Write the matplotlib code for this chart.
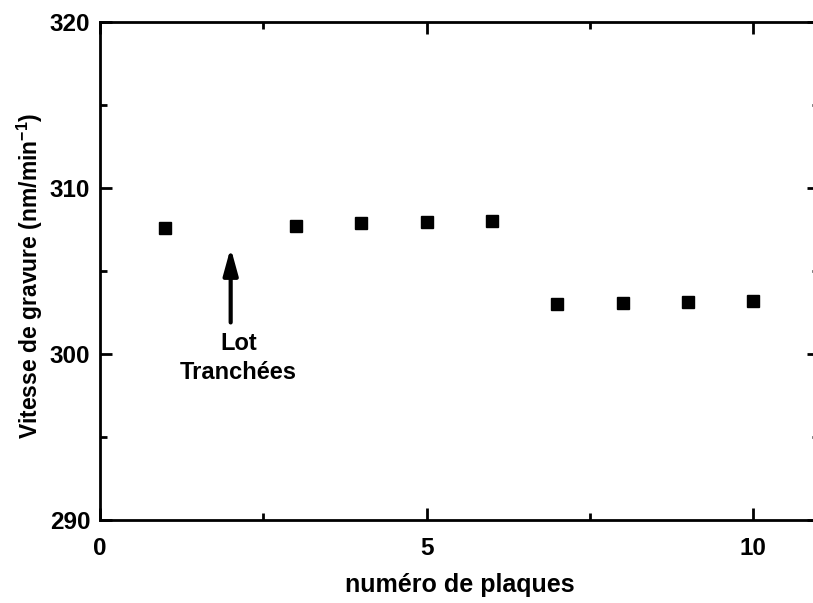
# Etch rate vs wafer number

import matplotlib.pyplot as plt
from matplotlib.ticker import MultipleLocator

plt.rcParams['font.family'] = ['Liberation Sans', 'DejaVu Sans']
plt.rcParams['font.weight'] = 'bold'
plt.rcParams['mathtext.fontset'] = 'custom'
plt.rcParams['mathtext.rm'] = 'Liberation Sans:bold'
plt.rcParams['mathtext.bf'] = 'Liberation Sans:bold'

# data
plaque = [1, 3, 4, 5, 6, 7, 8, 9, 10]
vitesse = [307.6, 307.73, 307.9, 307.95, 308.02, 302.99, 303.05, 303.11, 303.2]

# arrow marking the trench lot
lot_x = 2
lot_tail, lot_head = 301.9, 306.4

fig = plt.figure(figsize=(8.13, 6.03), dpi=100)
ax = fig.add_axes([0.123, 0.1376, 0.884, 0.826])

ax.plot(plaque, vitesse, 's', color='k', markersize=8, linestyle='none')

ax.annotate('', xy=(lot_x, lot_head), xytext=(lot_x, lot_tail),
            arrowprops=dict(arrowstyle='-|>,head_length=0.8,head_width=0.22',
                            color='k', lw=3, mutation_scale=20,
                            shrinkA=0, shrinkB=0))
ax.text(lot_x + 0.12, lot_tail - 0.6, 'Lot\nTranchées', ha='center', va='top',
        fontsize=17, fontweight='bold', linespacing=1.3)

ax.set_xlim(0, 11)
ax.set_ylim(290, 320)
ax.xaxis.set_major_locator(MultipleLocator(5))
ax.xaxis.set_minor_locator(MultipleLocator(2.5))
ax.yaxis.set_major_locator(MultipleLocator(10))
ax.yaxis.set_minor_locator(MultipleLocator(5))

ax.tick_params(which='both', direction='in', top=True, right=True, width=2)
ax.tick_params(which='major', length=8.5, labelsize=17.5)
ax.tick_params(axis='x', which='major', pad=12)
ax.tick_params(axis='y', which='major', pad=7)
ax.tick_params(which='minor', length=5)
for s in ax.spines.values():
    s.set_linewidth(2)

xl = ax.set_xlabel('numéro de plaques', fontsize=18, fontweight='bold')
yl = ax.set_ylabel(r'Vitesse de gravure (nm/min$^{\mathbf{-1}}$)', fontsize=16.5,
                   fontweight='bold')
xl.set_va('center')
yl.set_va('center')
ax.xaxis.set_label_coords(0.5, -0.13)
ax.yaxis.set_label_coords(-0.097, 0.49)

plt.savefig('out.png', dpi=100)
plt.close()
